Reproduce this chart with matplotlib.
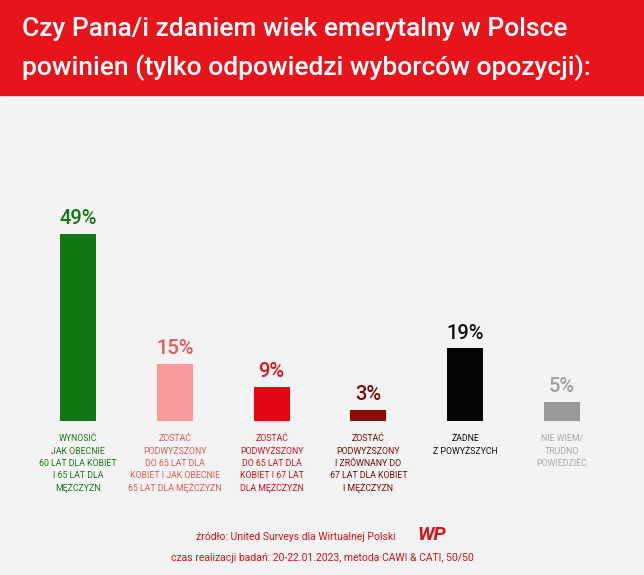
import matplotlib.pyplot as plt
from matplotlib.patches import Rectangle

values = [49, 15, 9, 3, 19, 5]
labels = ["WYNOSIĆ\nJAK OBECNIE\n60 LAT DLA KOBIET\nI 65 LAT DLA\nMĘŻCZYZN",
          "ZOSTAĆ\nPODWYŻSZONY\nDO 65 LAT DLA\nKOBIET I JAK OBECNIE\n65 LAT DLA MĘŻCZYZN",
          "ZOSTAĆ\nPODWYŻSZONY\nDO 65 LAT DLA\nKOBIET I 67 LAT\nDLA MĘŻCZYZN",
          "ZOSTAĆ\nPODWYŻSZONY\nI ZRÓWNANY DO\n67 LAT DLA KOBIET\nI MĘŻCZYZN",
          "ŻADNE\nZ POWYŻSZYCH",
          "NIE WIEM/\nTRUDNO\nPOWIEDZIEĆ"]
bar_colors = ["#117811", "#fb9a9a", "#e30613", "#8c0a0a", "#050505", "#999999"]
text_colors = ["#1c7a1c", "#e35a5a", "#d8131a", "#7a0a0a", "#111111", "#a8a8a8"]
pct_colors = ["#117811", "#e35a5a", "#d8131a", "#7a0a0a", "#111111", "#a0a0a0"]

plt.rcParams["font.family"] = "Roboto"
fig = plt.figure(figsize=(6.44, 5.75), dpi=100)
fig.patch.set_facecolor("#f3f3f3")

fig.patches.append(Rectangle((0, 1 - 95 / 575), 1, 95 / 575, transform=fig.transFigure,
                             color="#e8141c", zorder=0))
fig.text(22 / 644, 1 - 29 / 575, "Czy Pana/i zdaniem wiek emerytalny w Polsce",
         color="white", fontsize=19, fontweight="medium", va="center")
fig.text(22 / 644, 1 - 68 / 575, "powinien (tylko odpowiedzi wyborców opozycji):",
         color="white", fontsize=19, fontweight="medium", va="center")

ax = fig.add_axes([29.6 / 644, (575 - 421) / 575, 580.8 / 644, 200 / 575])
ax.set_facecolor("none")
x = range(len(values))
ax.bar(x, values, width=0.37, color=bar_colors)
for i, v in enumerate(values):
    ax.text(i, v + 1.5, f"{v}%", ha="center", va="bottom", fontsize=14.5,
            fontweight="medium", color=pct_colors[i])
    ax.text(i, -3.5, labels[i], ha="center", va="top", fontsize=6.3, color=text_colors[i],
            linespacing=1.45)
ax.set_xlim(-0.5, 5.5)
ax.set_ylim(0, 200 / 3.82)
ax.axis("off")

fig.text(0.46, 1 - 537 / 575, "źródło: United Surveys dla Wirtualnej Polski",
         color="#d8131a", fontsize=7.5, ha="center", va="center")
fig.text(432 / 644, 1 - 535 / 575, "WP", color="#d8131a", fontsize=14, fontweight="bold",
         ha="center", va="center", style="italic")
fig.text(0.5, 1 - 558 / 575, "czas realizacji badań: 20-22.01.2023, metoda CAWI & CATI, 50/50",
         color="#d8131a", fontsize=7.5, ha="center", va="center")

fig.savefig("out.png", dpi=100, facecolor=fig.get_facecolor())
